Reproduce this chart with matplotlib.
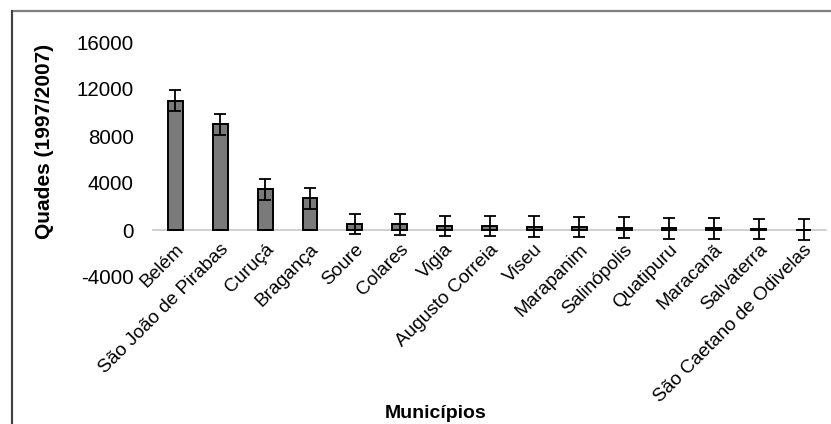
import matplotlib.pyplot as plt
from matplotlib.patches import Rectangle

plt.rcParams['font.family'] = ['Liberation Sans', 'DejaVu Sans']
plt.rcParams['axes.unicode_minus'] = False

municipios = ['Belém', 'São João de Pirabas', 'Curuçá', 'Bragança', 'Soure',
              'Colares', 'Vigia', 'Augusto Correia', 'Viseu', 'Marapanim',
              'Salinópolis', 'Quatipuru', 'Maracanã', 'Salvaterra',
              'São Caetano de Odivelas']
quades = [11000, 9000, 3450, 2700, 500, 480, 350, 340, 280, 250,
          190, 150, 130, 90, 40]
erro = [880] * len(quades)

W, H = 831, 424
fig = plt.figure(figsize=(W / 100, H / 100), dpi=100)

# moldura externa (só aparecem os lados de cima e da esquerda)
fig.patches.append(Rectangle((12 / W, -0.1), 1.2, 1 - 11 / H + 0.1,
                             transform=fig.transFigure, fill=False,
                             edgecolor='#7f7f7f', linewidth=1.6))
fig.add_artist(plt.Line2D([12 / W, 12 / W], [0, 1 - 11 / H],
                          transform=fig.transFigure, color='#404040', lw=1.4))

ax = fig.add_axes([153 / W, 1 - 277 / H, (826 - 153) / W, (277 - 42) / H])
x = range(len(quades))
ax.bar(x, quades, width=0.33, color='#7a7a7a', edgecolor='black', linewidth=1.4,
       yerr=erro, capsize=4.5, error_kw={'elinewidth': 1.3, 'capthick': 1.3},
       zorder=3)

ax.set_xlim(-0.5, len(quades) - 0.5)
ax.set_ylim(-4000, 16000)
ax.set_yticks([-4000, 0, 4000, 8000, 12000, 16000])
ax.tick_params(axis='y', length=0, labelsize=14.8, pad=14)
ax.tick_params(axis='x', length=0, pad=8)

for s in ['top', 'right', 'left']:
    ax.spines[s].set_visible(False)
ax.spines['bottom'].set_position(('data', 0))
ax.spines['bottom'].set_color('#c8c8c8')
ax.spines['bottom'].set_linewidth(1.2)

ax.set_xticks(list(x))
ax.set_xticklabels(municipios, rotation=45, ha='right', rotation_mode='anchor',
                   fontsize=13.7)

fig.text(45 / W, 1 - 141 / H, 'Quades (1997/2007)', rotation=90, fontsize=15,
         fontweight='bold', ha='center', va='center')
fig.text(436 / W, 1 - 414 / H, 'Municípios', fontsize=14, fontweight='bold',
         ha='center', va='center')

fig.savefig('out.png', dpi=100)
